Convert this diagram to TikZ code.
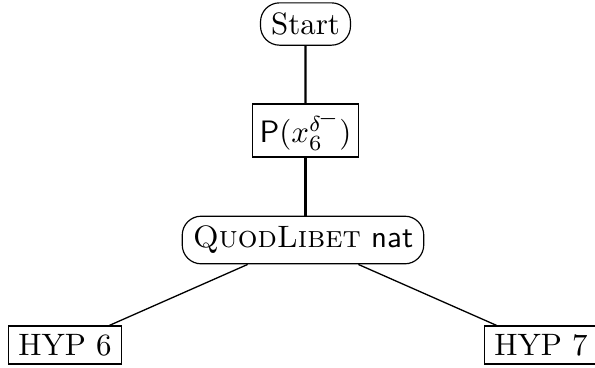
\documentclass[tikz,border=0pt]{standalone}
\begin{document}
\begin{tikzpicture}[x=0.34247pt,y=-0.34247pt,
  boxbase/.style={draw,scale=1.06,transform shape},
  roundbox/.style={boxbase,rounded corners=6.5pt,inner xsep=3.4pt,inner ysep=3.2pt},
  sqbox/.style={boxbase,inner xsep=3.3pt,inner ysep=2.6pt},
  vedge/.style={line width=0.75pt},
  edge/.style={line width=0.45pt}]
\useasboundingbox (0,0) rectangle (595,367);
\node[roundbox] (start) at (305.5,24) {Start};
\node[sqbox,inner xsep=2.2pt,inner ysep=2.2pt] (p) at (305.5,130.5) {$\mathsf{P}(x_6^{\delta\mkern-2mu\raisebox{2.3pt}{$\scriptstyle-$}})$};
\node[roundbox] (quod) at (303,240) {\textsc{QuodLibet} \textsf{nat}};
\node[sqbox] (h6) at (65,345) {HYP 6};
\node[sqbox] (h7) at (541,345) {HYP 7};
\draw[vedge] (start) -- (p);
\draw[vedge] (p.south) -- (p.south |- quod.north);
\draw[edge] (quod) -- (h6);
\draw[edge] (quod) -- (h7);
\end{tikzpicture}
\end{document}
